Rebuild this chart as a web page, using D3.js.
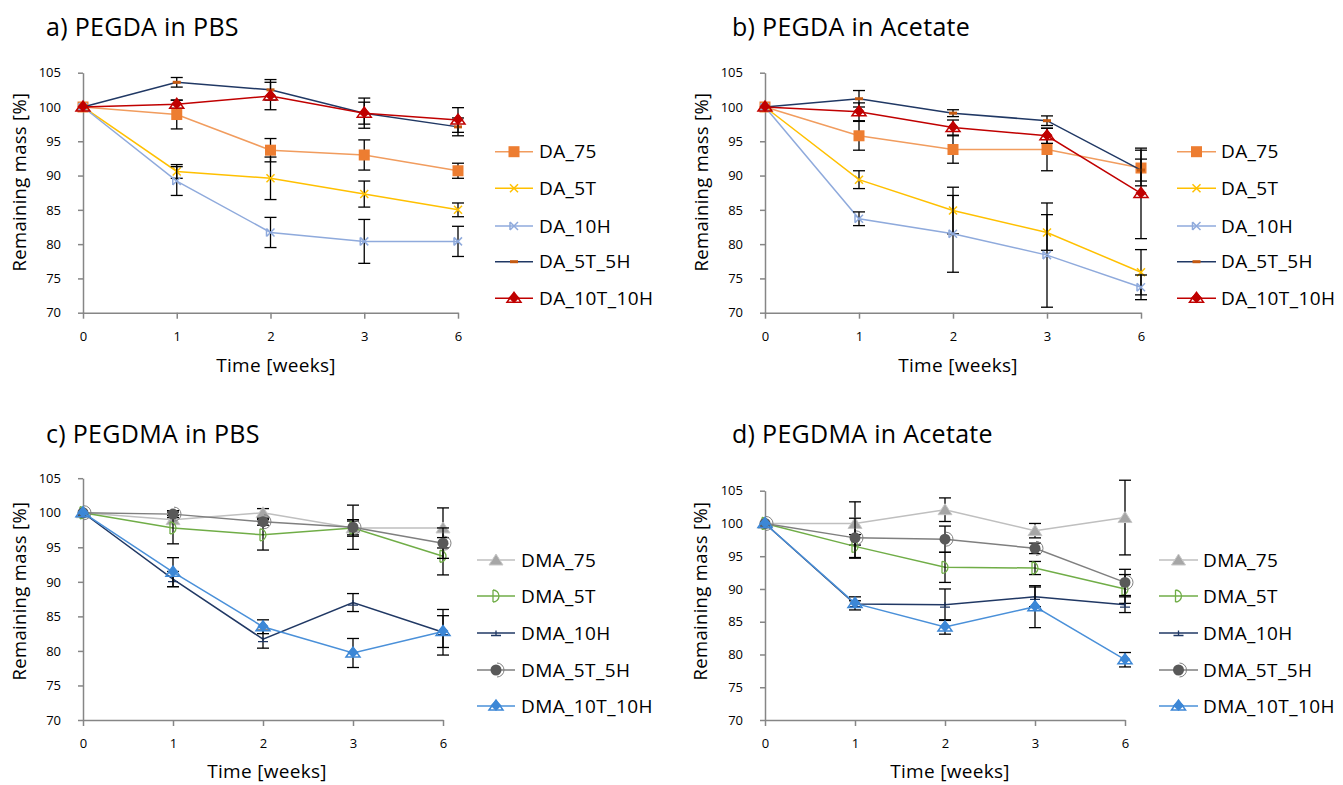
<!DOCTYPE html>
<html>
<head>
<meta charset="utf-8">
<script src="https://cdn.jsdelivr.net/npm/d3@7"></script>
<style>
body { margin: 0; background: #fff; }
text { font-family: "Open Sans", sans-serif; fill: #000; }
</style>
</head>
<body>
<svg id="chart" width="1343" height="785"></svg>
<script>
// categories and ticks
let weeks = ['0', '1', '2', '3', '6']
let yTicks = [70, 75, 80, 85, 90, 95, 100, 105]
let titles = ['a) PEGDA in PBS', 'b) PEGDA in Acetate', 'c) PEGDMA in PBS', 'd) PEGDMA in Acetate']
let daNames = ['DA_75', 'DA_5T', 'DA_10H', 'DA_5T_5H', 'DA_10T_10H']
let dmaNames = ['DMA_75', 'DMA_5T', 'DMA_10H', 'DMA_5T_5H', 'DMA_10T_10H']

// a) PEGDA in PBS - remaining mass [%] and error
let aMeans = [
    [100, 98.9, 93.7, 93.0, 90.7],
    [100, 90.6, 89.6, 87.3, 85.0],
    [100, 89.2, 81.7, 80.4, 80.4],
    [100, 103.6, 102.5, 99.1, 97.1],
    [100, 100.4, 101.6, 99.1, 98.1]
]
let aErrs = [
    [0, 2.1, 1.7, 2.2, 1.1],
    [0, 1.0, 3.1, 1.9, 1.0],
    [0, 2.1, 2.2, 3.2, 2.2],
    [0, 0.7, 1.5, 1.6, 1.3],
    [0, 0.6, 2.0, 2.2, 1.8]
]

// b) PEGDA in Acetate
let bMeans = [
    [100, 95.8, 93.8, 93.8, 91.1],
    [100, 89.4, 84.9, 81.7, 75.9],
    [100, 83.7, 81.5, 78.4, 73.7],
    [100, 101.2, 99.1, 98.0, 90.8],
    [100, 99.3, 97.0, 95.8, 87.4]
]
let bErrs = [
    [0, 2.1, 2.0, 3.1, 2.6],
    [0, 1.3, 3.4, 2.6, 3.3],
    [0, 1.0, 5.6, 7.6, 1.8],
    [0, 1.2, 0.5, 0.7, 1.6],
    [0, 1.3, 1.1, 1.1, 6.6]
]

// c) PEGDMA in PBS
let cMeans = [
    [100, 99.0, 100.0, 97.8, 97.8],
    [100, 97.8, 96.8, 97.8, 93.7],
    [100, 90.4, 81.7, 87.0, 82.7],
    [100, 99.8, 98.7, 97.9, 95.6],
    [100, 91.4, 83.5, 79.7, 82.8]
]
let cErrs = [
    [0, 0.6, 0.6, 1.0, 2.9],
    [0, 2.3, 2.2, 1.2, 2.7],
    [0, 1.1, 1.3, 1.3, 3.3],
    [0, 0.5, 0.5, 3.2, 2.2],
    [0, 2.1, 1.0, 2.1, 2.3]
]

// d) PEGDMA in Acetate
let dMeans = [
    [100, 100.0, 102.1, 98.9, 100.9],
    [100, 96.5, 93.3, 93.2, 90.0],
    [100, 87.7, 87.6, 88.8, 87.6],
    [100, 97.8, 97.6, 96.2, 91.0],
    [100, 87.8, 84.2, 87.3, 79.2]
]
let dErrs = [
    [0, 3.3, 1.8, 1.1, 5.7],
    [0, 1.8, 2.3, 1.0, 2.2],
    [0, 0.5, 2.4, 1.5, 1.2],
    [0, 3.0, 2.0, 0.8, 2.0],
    [0, 1.0, 1.1, 3.2, 1.1]
]

// series styles
let daStyles = [
    {line: '#F19C5E', marker: 'square', color: '#ED7D31'},
    {line: '#FFC000', marker: 'cross', color: '#FFC000'},
    {line: '#8FAADC', marker: 'bowtie', color: '#8FAADC'},
    {line: '#203864', marker: 'dash', color: '#C55A11'},
    {line: '#C00000', marker: 'diamondTri', color: '#C00000'}
]
let dmaStyles = [
    {line: '#BFBFBF', marker: 'triangle', color: '#A6A6A6'},
    {line: '#70AD47', marker: 'dshape', color: '#70AD47'},
    {line: '#203864', marker: 'tee', color: '#203864'},
    {line: '#7F7F7F', marker: 'circleD', color: '#595959'},
    {line: '#4A90D9', marker: 'diamondTri', color: '#3C87D6'}
]

// panel layout
let rowsTop = [151.7, 188.3, 226, 261.7, 298.3]
let rowsBottom = [560, 596, 633, 670, 706]
let panels = [
    {title: titles[0], names: daNames, means: aMeans, errs: aErrs, styles: daStyles,
     x0: 83, x1: 458, yTop: 72.7, yBot: 312.7, tx: 46, ty: 36, ylx: 26, yly: 182, xlx: 276, xly: 372,
     legL: 495, legR: 533, legT: 539, legRows: rowsTop},
    {title: titles[1], names: daNames, means: bMeans, errs: bErrs, styles: daStyles,
     x0: 765, x1: 1141, yTop: 72.7, yBot: 312.7, tx: 732, ty: 36, ylx: 708, yly: 182, xlx: 958, xly: 372,
     legL: 1177, legR: 1216, legT: 1221, legRows: rowsTop},
    {title: titles[2], names: dmaNames, means: cMeans, errs: cErrs, styles: dmaStyles,
     x0: 83, x1: 443, yTop: 478.2, yBot: 720, tx: 46, ty: 443, ylx: 26, yly: 591, xlx: 267, xly: 778,
     legL: 477, legR: 515, legT: 521, legRows: rowsBottom},
    {title: titles[3], names: dmaNames, means: dMeans, errs: dErrs, styles: dmaStyles,
     x0: 765, x1: 1125, yTop: 490.7, yBot: 720, tx: 732, ty: 443, ylx: 707, yly: 591, xlx: 950, xly: 778,
     legL: 1159, legR: 1198, legT: 1203, legRows: rowsBottom}
]

let svg = d3.select('#chart')

let drawMarker = (g, st) => {
    let c = st.color
    if (st.marker === 'square') {
        g.append('rect').attr('x', -5.5).attr('y', -5.5).attr('width', 11).attr('height', 11).attr('fill', c)
    } else if (st.marker === 'cross') {
        g.append('path').attr('d', 'M-4,-4L4,4M-4,4L4,-4').attr('stroke', c).attr('stroke-width', 1.5).attr('fill', 'none')
    } else if (st.marker === 'bowtie') {
        g.append('path').attr('d', 'M-4,-4L4,4M-4,4L4,-4M-4,-4V4').attr('stroke', c).attr('stroke-width', 1.5).attr('fill', 'none')
    } else if (st.marker === 'dash') {
        g.append('rect').attr('x', -4).attr('y', -1.5).attr('width', 8).attr('height', 3).attr('fill', c)
    } else if (st.marker === 'diamondTri') {
        g.append('path').attr('d', 'M-7,4L0,-6L7,4Z').attr('stroke', c).attr('stroke-width', 1.5).attr('fill', 'none')
        g.append('path').attr('d', 'M0,-6L5.5,-0.5L0,5L-5.5,-0.5Z').attr('fill', c)
    } else if (st.marker === 'triangle') {
        g.append('path').attr('d', 'M-7,5L0,-6L7,5Z').attr('fill', c).attr('stroke', '#C8C8C8').attr('stroke-width', 1)
    } else if (st.marker === 'dshape') {
        g.append('path').attr('d', 'M-3,-6V6M-3,-6A6,6 0 0 1 -3,6').attr('stroke', c).attr('stroke-width', 1.3).attr('fill', 'none')
    } else if (st.marker === 'tee') {
        g.append('path').attr('d', 'M-5,2.5H5M0,2.5V-2.5').attr('stroke', c).attr('stroke-width', 1.3).attr('fill', 'none')
    } else if (st.marker === 'circleD') {
        g.append('circle').attr('r', 5.5).attr('fill', c)
        g.append('path').attr('d', 'M1,-7A7,7 0 0 1 1,7').attr('stroke', '#7F7F7F').attr('stroke-width', 1).attr('fill', 'none')
    }
}

let drawPanel = (p) => {
    let x = d3.scalePoint().domain(weeks).range([p.x0, p.x1])
    let y = d3.scaleLinear().domain([70, 105]).range([p.yBot, p.yTop])

    let g = svg.append('g')

    // axes
    let xAxis = d3.axisBottom(x).tickSize(6).tickSizeOuter(0).tickPadding(13)
    let yAxis = d3.axisLeft(y).tickValues(yTicks).tickSize(5).tickSizeOuter(0).tickPadding(17)

    let gx = g.append('g').attr('transform', 'translate(0,' + p.yBot + ')').call(xAxis)
    let gy = g.append('g').attr('transform', 'translate(' + p.x0 + ',0)').call(yAxis)
    for (let ax of [gx, gy]) {
        ax.select('.domain').attr('stroke', '#868686').attr('stroke-width', 1.5)
        ax.selectAll('.tick line').attr('stroke', '#868686').attr('stroke-width', 1.5)
        ax.selectAll('.tick text').style('font-family', '"Open Sans", sans-serif').style('font-size', '13px').attr('fill', '#000')
    }

    // series
    p.means.forEach((vals, i) => {
        let st = p.styles[i]
        let line = d3.line().x((v, k) => x(weeks[k])).y(v => y(v))
        g.append('path').datum(vals).attr('d', line)
            .attr('fill', 'none').attr('stroke', st.line).attr('stroke-width', 1.5)

        // error bars
        vals.forEach((v, k) => {
            let e = p.errs[i][k]
            if (!e) return
            let cx = x(weeks[k])
            let eb = g.append('g').attr('stroke', '#000').attr('stroke-width', 1.3)
            eb.append('line').attr('x1', cx).attr('x2', cx).attr('y1', y(v + e)).attr('y2', y(v - e))
            eb.append('line').attr('x1', cx - 6).attr('x2', cx + 6).attr('y1', y(v + e)).attr('y2', y(v + e))
            eb.append('line').attr('x1', cx - 6).attr('x2', cx + 6).attr('y1', y(v - e)).attr('y2', y(v - e))
        })

        vals.forEach((v, k) => {
            let m = g.append('g').attr('transform', 'translate(' + x(weeks[k]) + ',' + y(v) + ')')
            drawMarker(m, st)
        })

        // legend
        let ly = p.legRows[i]
        g.append('line').attr('x1', p.legL).attr('x2', p.legR).attr('y1', ly).attr('y2', ly)
            .attr('stroke', st.line).attr('stroke-width', 1.5)
        drawMarker(g.append('g').attr('transform', 'translate(' + ((p.legL + p.legR) / 2) + ',' + ly + ')'), st)
        g.append('text').attr('x', p.legT).attr('y', ly).attr('dy', '0.35em')
            .style('font-size', '19px').style('letter-spacing', '0.4px').text(p.names[i])
    })

    // titles
    g.append('text').attr('x', p.tx).attr('y', p.ty).style('font-size', '25px')
        .style('letter-spacing', '0.3px').text(p.title)
    g.append('text').attr('transform', 'translate(' + p.ylx + ',' + p.yly + ') rotate(-90)')
        .attr('text-anchor', 'middle').style('font-size', '18.5px').style('letter-spacing', '0.3px')
        .text('Remaining mass [%]')
    g.append('text').attr('x', p.xlx).attr('y', p.xly).attr('text-anchor', 'middle')
        .style('font-size', '19px').style('letter-spacing', '0.3px').text('Time [weeks]')
}

panels.forEach(drawPanel)
</script>
</body>
</html>
